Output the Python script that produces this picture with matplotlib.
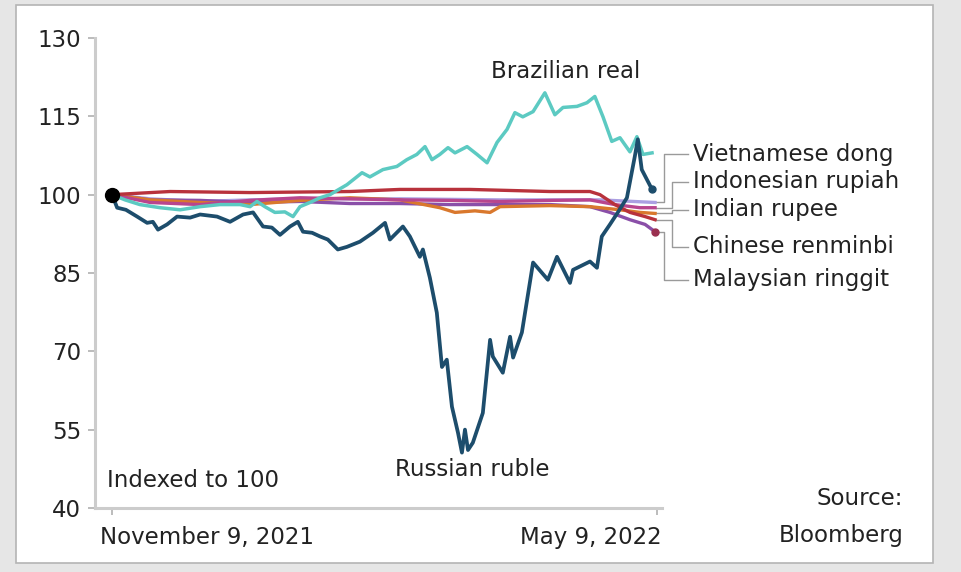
import matplotlib
matplotlib.use('Agg')
import matplotlib.pyplot as plt
from matplotlib.patches import Rectangle

# ----- data: days since Nov 9 2021, index (Nov 9 2021 = 100) -----

ruble_days = [0, 1.7, 4.6, 8.3, 11.6, 13.5, 15.2, 18.2, 21.5, 25.8, 29.1, 34.7, 39.0, 43.3,
              46.6, 49.9, 52.8, 55.5, 58.8, 61.4, 63.1, 66.1, 68.7, 71.3, 74.6, 77.6, 81.9,
              86.2, 90.2, 91.8, 96.1, 98.4, 101.7, 102.7, 105.0, 107.3, 109.0, 110.6, 112.3,
              114.3, 115.6, 116.6, 117.6, 119.2, 122.5, 124.9, 125.8, 129.1, 131.5, 132.5,
              135.4, 139.1, 144.0, 147.0, 151.3, 152.3, 157.9, 160.2, 161.8, 164.5, 167.1,
              170.1, 172.7, 173.7, 175.0, 178.4]
ruble = [100.0, 97.5, 97.1, 95.8, 94.6, 94.8, 93.3, 94.3, 95.8, 95.6, 96.2, 95.8, 94.8, 96.2,
         96.6, 93.9, 93.7, 92.3, 93.9, 94.8, 92.9, 92.7, 92.0, 91.4, 89.5, 90.0, 91.0,
         92.7, 94.6, 91.4, 93.9, 92.0, 88.1, 89.5, 84.1, 77.4, 67.0, 68.4, 59.4,
         54.4, 50.6, 55.0, 51.1, 52.5, 58.2, 72.2, 69.0, 65.9, 72.8, 68.8,
         73.6, 87.0, 83.7, 88.1, 83.1, 85.6, 87.2, 86.0, 92.0, 94.3, 96.6,
         99.4, 107.3, 110.6, 104.8, 101.0]

real_days = [0, 4.3, 9.2, 15.9, 22.5, 29.1, 35.7, 42.3, 45.6, 47.9, 50.5, 53.8, 57.1, 59.8,
             62.1, 65.4, 68.7, 72.0, 77.6, 82.6, 85.2, 89.5, 94.1, 97.4, 100.7, 103.4,
             105.7, 108.3, 111.0, 113.3, 117.3, 120.6, 123.9, 127.2, 130.5, 133.1, 135.7,
             139.1, 143.0, 146.3, 149.0, 153.6, 156.9, 159.5, 162.2, 165.1, 167.8, 171.1,
             173.4, 175.4, 178.4]
real = [100.0, 99.0, 98.1, 97.5, 97.1, 97.7, 98.1, 98.1, 97.7, 98.7, 97.7, 96.6, 96.7, 95.8,
        97.7, 98.5, 99.4, 100.0, 101.9, 104.2, 103.4, 104.8, 105.4, 106.7, 107.7, 109.2,
        106.7, 107.7, 109.0, 108.0, 109.2, 107.7, 106.1, 110.0, 112.5, 115.7, 114.9,
        115.9, 119.5, 115.3, 116.7, 116.9, 117.6, 118.8, 114.9, 110.2, 110.9, 108.2,
        111.1, 107.7, 108.0]

dong_days = [0, 12.6, 29.1, 45.6, 62.1, 95.1, 128.2, 161.2, 179.4]
dong = [100.0, 99.2, 98.7, 99.0, 99.2, 99.2, 99.0, 99.0, 98.5]

rupiah_days = [0, 12.6, 29.1, 45.6, 62.1, 78.6, 95.1, 111.6, 128.2, 144.7, 157.9, 166.1,
               174.4, 179.4]
rupiah = [100.0, 98.5, 98.1, 98.9, 99.4, 99.2, 99.0, 98.9, 98.7, 98.9, 99.0, 98.1,
          97.5, 97.5]

rupee_days = [0, 12.6, 29.1, 45.6, 62.1, 78.6, 95.1, 108.3, 113.3, 119.9, 124.9, 128.2,
              144.7, 157.9, 167.8, 174.4, 179.4]
rupee = [100.0, 99.0, 98.5, 98.1, 98.9, 99.4, 99.0, 97.5, 96.6, 96.9, 96.6, 97.7,
         97.9, 97.7, 97.1, 96.6, 96.4]

renminbi_days = [0, 19.2, 45.6, 78.6, 95.1, 118.2, 144.7, 157.9, 161.2, 166.1, 171.1,
                 176.1, 179.4]
renminbi = [100.0, 100.6, 100.4, 100.6, 101.0, 101.0, 100.6, 100.6, 100.0, 98.1, 96.6,
            95.8, 95.2]

ringgit_days = [0, 12.6, 29.1, 45.6, 62.1, 78.6, 95.1, 111.6, 128.2, 144.7, 157.9, 164.5,
                171.1, 176.1, 179.4]
ringgit = [100.0, 99.0, 98.9, 98.5, 98.7, 98.3, 98.3, 98.1, 98.1, 98.1, 97.7, 96.6,
           95.2, 94.3, 92.9]

# label y positions (data units) for the right-hand labels
label_names = ['Vietnamese dong', 'Indonesian rupiah', 'Indian rupee',
               'Chinese renminbi', 'Malaysian ringgit']
label_y = [107.7, 102.5, 97.1, 90.0, 83.7]

# ----- figure -----
fig = plt.figure(figsize=(9.61, 5.72), dpi=100, facecolor='#e6e6e6')
fig.patches.append(Rectangle((0.0166, 0.0157), 0.954, 0.9755, transform=fig.transFigure,
                             facecolor='white', edgecolor='#b4b4b4', linewidth=1.2,
                             zorder=-10))

ax = fig.add_axes([0.0989, 0.1119, 0.590, 0.8217])
ax.set_facecolor('none')

txt = '#222222'
fs = 16.5

ax.plot(dong_days, dong, color='#ab9fe2', lw=2.4, zorder=3)
ax.plot(ringgit_days, ringgit, color='#8a4fa8', lw=2.4, zorder=3)
ax.plot(rupee_days, rupee, color='#d9782d', lw=2.4, zorder=3)
ax.plot(rupiah_days, rupiah, color='#b8458e', lw=2.4, zorder=4)
ax.plot(renminbi_days, renminbi, color='#b8323c', lw=2.4, zorder=4)
ax.plot(real_days, real, color='#5ccac2', lw=2.5, zorder=5)
ax.plot(ruble_days, ruble, color='#1d4d6c', lw=2.7, zorder=6)

# end dots
ax.plot(ruble_days[-1], ruble[-1], 'o', color='#1d4d6c', ms=5, zorder=7)
ax.plot(ringgit_days[-1], ringgit[-1], 'o', color='#9a3050', ms=5, zorder=7)
# start dot
ax.plot(0, 100, 'o', color='black', ms=10, zorder=8)

ax.set_xlim(-5.6, 181.7)
ax.set_ylim(40, 130)

ax.set_yticks([40, 55, 70, 85, 100, 115, 130])
ax.set_xticks([0, 180])
ax.set_xticklabels(['', ''])
for s in ['top', 'right']:
    ax.spines[s].set_visible(False)
for s in ['left', 'bottom']:
    ax.spines[s].set_color('#cccccc')
    ax.spines[s].set_linewidth(2.2)
ax.tick_params(axis='both', colors='#b0b0b0', length=5, width=1.2)
ax.tick_params(axis='y', labelcolor=txt, labelsize=fs, pad=5)

# x labels
ax.text(-3.8, 36.5, 'November 9, 2021', ha='left', va='top', fontsize=fs, color=txt)
ax.text(181.7, 36.5, 'May 9, 2022', ha='right', va='top', fontsize=fs, color=txt)

# annotations
ax.text(150, 123.5, 'Brazilian real', ha='center', va='center', fontsize=fs, color=txt)
ax.text(119, 47.3, 'Russian ruble', ha='center', va='center', fontsize=fs, color=txt)
ax.text(-1.5, 45.3, 'Indexed to 100', ha='left', va='center', fontsize=fs, color=txt)
fig.text(0.94, 0.128, 'Source:', ha='right', va='center', fontsize=fs, color=txt)
fig.text(0.94, 0.063, 'Bloomberg', ha='right', va='center', fontsize=fs, color=txt)

# right-hand labels with leader lines
ends = [dong[-1], rupiah[-1], rupee[-1], renminbi[-1], ringgit[-1]]
vx = [182.3, 185.0, 185.0, 185.0, 182.3]
lc = '#9a9a9a'
for name, ly, ey, x in zip(label_names, label_y, ends, vx):
    ax.plot([179.6, x, x, 190.2], [ey, ey, ly, ly], color=lc, lw=1, clip_on=False, zorder=2)
    ax.text(191.9, ly, name, ha='left', va='center', fontsize=fs, color=txt)

fig.savefig('out.png', dpi=100, facecolor=fig.get_facecolor())
